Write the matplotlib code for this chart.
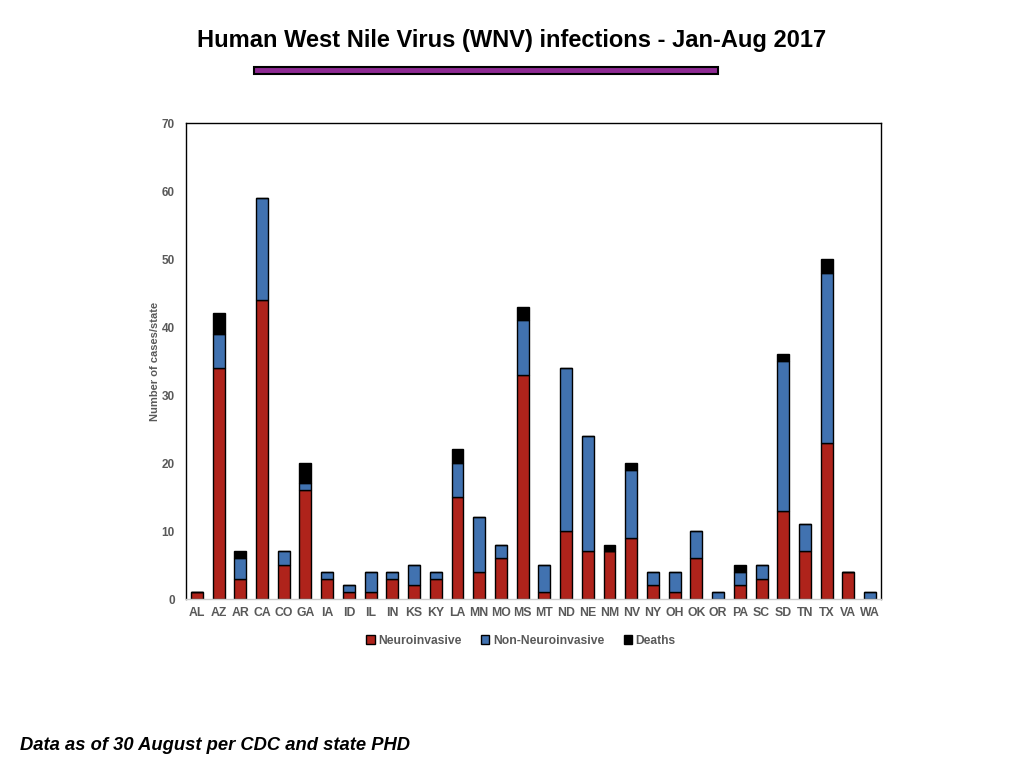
import matplotlib
matplotlib.use("Agg")
import matplotlib.pyplot as plt
from matplotlib.patches import Rectangle

plt.rcParams["font.family"] = ["Liberation Sans", "DejaVu Sans"]

states = ["AL", "AZ", "AR", "CA", "CO", "GA", "IA", "ID", "IL", "IN", "KS", "KY",
          "LA", "MN", "MO", "MS", "MT", "ND", "NE", "NM", "NV", "NY", "OH", "OK",
          "OR", "PA", "SC", "SD", "TN", "TX", "VA", "WA"]
neuro = [1, 34, 3, 44, 5, 16, 3, 1, 1, 3, 2, 3,
         15, 4, 6, 33, 1, 10, 7, 7, 9, 2, 1, 6,
         0, 2, 3, 13, 7, 23, 4, 0]
non_neuro = [0, 5, 3, 15, 2, 1, 1, 1, 3, 1, 3, 1,
             5, 8, 2, 8, 4, 24, 17, 0, 10, 2, 3, 4,
             1, 2, 2, 22, 4, 25, 0, 1]
deaths = [0, 3, 1, 0, 0, 3, 0, 0, 0, 0, 0, 0,
          2, 0, 0, 2, 0, 0, 0, 1, 1, 0, 0, 0,
          0, 1, 0, 1, 0, 2, 0, 0]

RED = "#AF231B"
BLUE = "#4172B0"
GREY = "#595959"

fig = plt.figure(figsize=(10.24, 7.68), dpi=100)
ax = fig.add_axes([186 / 1024, 1 - 599 / 768, 695 / 1024, 476 / 768])

x = range(len(states))
w = 0.55
bottom2 = [a + b for a, b in zip(neuro, non_neuro)]
ax.bar(x, neuro, width=w, color=RED, edgecolor="black", linewidth=1, label="Neuroinvasive")
ax.bar(x, non_neuro, width=w, bottom=neuro, color=BLUE, edgecolor="black", linewidth=1,
       label="Non-Neuroinvasive")
ax.bar(x, deaths, width=w, bottom=bottom2, color="black", edgecolor="black", linewidth=1,
       label="Deaths")

ax.set_xlim(-0.5, len(states) - 0.5)
ax.set_ylim(0, 70)
ax.set_yticks(range(0, 71, 10))
ax.set_xticks(list(x))
ax.set_xticklabels(states)
ax.tick_params(axis="x", length=0, pad=6, labelsize=8.8, labelcolor=GREY)
ax.tick_params(axis="y", length=0, pad=8, labelsize=8.5, labelcolor=GREY)
for lab in ax.get_xticklabels() + ax.get_yticklabels():
    lab.set_fontweight("bold")
ax.set_ylabel("Number of cases/state", fontsize=8, fontweight="bold", color=GREY, labelpad=1)

for side in ["left", "top", "right"]:
    ax.spines[side].set_color("black")
    ax.spines[side].set_linewidth(1)
ax.spines["bottom"].set_color("#cccccc")
ax.spines["bottom"].set_linewidth(1)

leg = ax.legend(loc="upper center", bbox_to_anchor=(0.482, -0.052), ncol=3, frameon=False,
                fontsize=8.7, handlelength=0.7, handleheight=0.7, handletextpad=0.3,
                columnspacing=1.6)
for t in leg.get_texts():
    t.set_color(GREY)
    t.set_fontweight("bold")

fig.text(0.5, 1 - 41 / 768, "Human West Nile Virus (WNV) infections - Jan-Aug 2017",
         ha="center", va="center", fontsize=17, fontweight="bold")
fig.patches.append(Rectangle((254 / 1024, 1 - 74 / 768), 464 / 1024, 7 / 768,
                             transform=fig.transFigure, facecolor="#8E2A93",
                             edgecolor="black", linewidth=1.5))
fig.text(20 / 1024, 1 - 745 / 768, "Data as of 30 August per CDC and state PHD",
         ha="left", va="center", fontsize=13.2, fontweight="bold", style="italic")

fig.savefig("out.png", dpi=100)
